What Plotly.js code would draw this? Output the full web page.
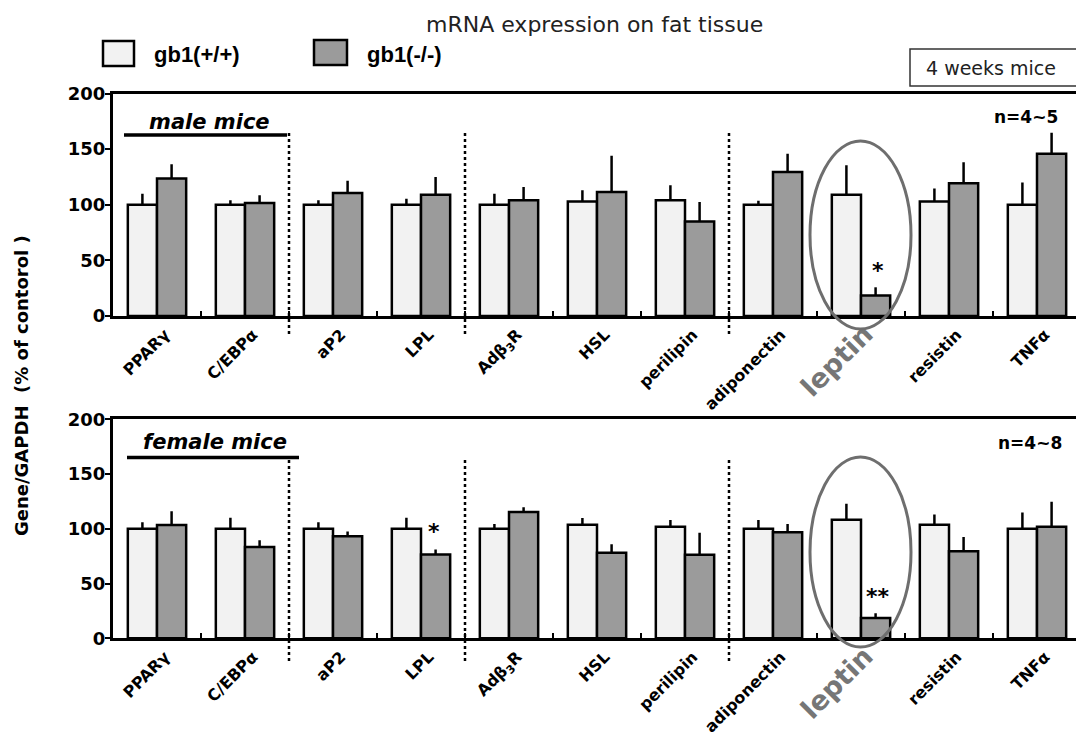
<!DOCTYPE html>
<html>
<head>
<meta charset="utf-8">
<script src="https://cdn.plot.ly/plotly-3.0.1.min.js"></script>
<style>html,body{margin:0;padding:0;background:#fff;overflow:hidden}#chart{width:1076px;height:736px}</style>
</head>
<body>
<div id="chart"></div>
<script>
// ---- data ----
const genes = ["PPARγ","C/EBPα","aP2","LPL","Adβ3R","HSL","perilipin","adiponectin","leptin","resistin","TNFα"];
const tickLabels = ["PPARγ","C/EBPα","aP2","LPL","Adβ<sub>3</sub>R","HSL","perilipin","adiponectin",
  "<span style=\"color:#767676;font-size:27px\">leptin</span>","resistin","TNFα"];
const seriesNames = ["gb1(+/+)","gb1(-/-)"];

const maleWT     = [100, 100, 100, 100, 100, 103, 104, 100, 109, 103, 100];
const maleWTerr  = [10, 4, 4, 5.5, 10, 10, 13.5, 3.7, 26.5, 11.5, 20];
const maleKO     = [123.5, 101.5, 110.5, 109, 104, 111.5, 85, 129.5, 18.5, 119.3, 145.8];
const maleKOerr  = [13, 7, 11, 16, 12, 32.5, 17.5, 16.3, 7.3, 19, 19];

const femaleWT    = [100, 100, 100, 100, 100, 103.7, 101.9, 100, 108.3, 103.7, 100];
const femaleWTerr = [6, 10, 6, 10, 4.3, 6.2, 6.1, 8, 14.5, 9.3, 14.8];
const femaleKO    = [103.4, 83.4, 93.2, 76.6, 115.3, 78.1, 76.2, 96.9, 18.5, 79.6, 101.9];
const femaleKOerr = [12.6, 6.1, 4.3, 4.4, 4.3, 7.7, 20.1, 7.4, 4.3, 13, 22.8];

const groupSeparators = [1.5, 3.5, 6.5];

// ---- layout helpers ----
const W = 1076, H = 736, ML = 113, PW = W - ML;
const px = x => (x - ML) / PW;
const py = y => 1 - y / H;
const zeros = genes.map(() => 0);
const FONT = "DejaVu Sans, sans-serif";
const WTfill = "#f2f2f2", KOfill = "#9b9b9b";

function barTrace(vals, errs, name, fill, xa, ya) {
  return {
    type: "bar", x: genes, y: vals, name: name, xaxis: xa, yaxis: ya, showlegend: false,
    marker: {color: fill, line: {color: "#000", width: 2.5}},
    error_y: {type: "data", symmetric: false, array: errs, arrayminus: zeros,
              thickness: 2.5, width: 0, color: "#000"},
    hoverinfo: "x+y"
  };
}

const traces = [
  barTrace(maleWT, maleWTerr, seriesNames[0], WTfill, "x", "y"),
  barTrace(maleKO, maleKOerr, seriesNames[1], KOfill, "x", "y"),
  barTrace(femaleWT, femaleWTerr, seriesNames[0], WTfill, "x2", "y2"),
  barTrace(femaleKO, femaleKOerr, seriesNames[1], KOfill, "x2", "y2")
];

function xAxis(anchor) {
  return {
    anchor: anchor, type: "category", range: [-0.5, -0.5 + PW / 88],
    tickmode: "array", tickvals: genes, ticktext: tickLabels, tickangle: -45,
    tickson: "boundaries", ticks: "inside", ticklen: 5, tickwidth: 2, tickcolor: "#000",
    ticklabelshift: 8,
    showline: true, linewidth: 3, linecolor: "#000", mirror: true,
    showgrid: false, zeroline: false,
    tickfont: {family: FONT, size: 16, color: "#000", weight: "bold"}
  };
}
function yAxis(domain, anchor) {
  return {
    domain: domain, anchor: anchor, range: [0, 200], dtick: 50, tick0: 0,
    ticks: "outside", ticklen: 5, tickwidth: 2, tickcolor: "#000",
    ticklabelstandoff: -4,
    showline: true, linewidth: 3, linecolor: "#000",
    showgrid: false, zeroline: false,
    tickfont: {family: FONT, size: 18, color: "#000", weight: "bold"}
  };
}

const shapes = [];
// group separators (dotted)
groupSeparators.forEach(s => {
  shapes.push({type: "line", xref: "x", yref: "paper", x0: s, x1: s, y0: py(133), y1: py(336),
               line: {color: "#000", width: 2.5, dash: "dot"}});
  shapes.push({type: "line", xref: "x2", yref: "paper", x0: s, x1: s, y0: py(460), y1: py(663),
               line: {color: "#000", width: 2.5, dash: "dot"}});
});
// panel label underlines
shapes.push({type: "line", xref: "paper", yref: "paper", x0: px(124), x1: px(287), y0: py(135), y1: py(135), line: {color: "#000", width: 3.5}});
shapes.push({type: "line", xref: "paper", yref: "paper", x0: px(127), x1: px(299), y0: py(457.5), y1: py(457.5), line: {color: "#000", width: 3.5}});
// ellipses around leptin
shapes.push({type: "circle", xref: "paper", yref: "paper", x0: px(810), x1: px(911), y0: py(141), y1: py(329), line: {color: "#6e6e6e", width: 3}});
shapes.push({type: "circle", xref: "paper", yref: "paper", x0: px(810), x1: px(911), y0: py(457), y1: py(647), line: {color: "#6e6e6e", width: 3}});
// "4 weeks mice" box
shapes.push({type: "rect", xref: "paper", yref: "paper", x0: px(910), x1: px(1085), y0: py(49), y1: py(86), line: {color: "#333", width: 1.5}, fillcolor: "rgba(0,0,0,0)"});
// legend swatches
shapes.push({type: "rect", xref: "paper", yref: "paper", x0: px(103), x1: px(134), y0: py(41), y1: py(66), line: {color: "#000", width: 2.5}, fillcolor: WTfill});
shapes.push({type: "rect", xref: "paper", yref: "paper", x0: px(314), x1: px(347), y0: py(40), y1: py(65), line: {color: "#000", width: 2.5}, fillcolor: KOfill});

function ann(text, x, y, size, opts) {
  return Object.assign({text: text, xref: "paper", yref: "paper", x: px(x), y: py(y),
    xanchor: "center", yanchor: "middle", showarrow: false,
    font: {family: FONT, size: size, color: "#000", weight: "bold"}}, opts || {});
}

const annotations = [
  ann("mRNA expression on fat tissue", 594, 24, 22, {font: {family: FONT, size: 22, color: "#222", weight: "normal"}}),
  ann("4 weeks mice", 991, 68, 19, {font: {family: FONT, size: 19, color: "#222", weight: "normal"}}),
  ann(seriesNames[0], 152, 54, 22, {xanchor: "left", font: {family: "Liberation Sans, Arial, sans-serif", size: 22, color: "#000", weight: "bold"}}),
  ann(seriesNames[1], 365, 54, 22, {xanchor: "left", font: {family: "Liberation Sans, Arial, sans-serif", size: 22, color: "#000", weight: "bold"}}),
  ann("male mice", 209, 122, 21, {font: {family: FONT, size: 21, color: "#000", weight: "bold", style: "italic"}}),
  ann("female mice", 215, 442, 21, {font: {family: FONT, size: 21, color: "#000", weight: "bold", style: "italic"}}),
  ann("n=4~5", 1026, 117, 17),
  ann("n=4~8", 1030, 443, 17),
  ann("*", 878, 271, 22),
  ann("**", 878, 596, 22),
  ann("*", 434, 531, 22),
  ann("Gene/GAPDH\u00a0\u00a0(% of contorol\u00a0)", 21, 386, 18, {textangle: -90})
];

const layout = {
  width: W, height: H,
  margin: {l: ML, r: 0, t: 0, b: 0, pad: 0},
  paper_bgcolor: "#fff", plot_bgcolor: "#fff",
  barmode: "group", bargap: 0.337, bargroupgap: 0,
  showlegend: false,
  xaxis: xAxis("y"),
  yaxis: yAxis([py(316), py(93.5)], "x"),
  xaxis2: xAxis("y2"),
  yaxis2: yAxis([py(638.3), py(419.3)], "x2"),
  shapes: shapes,
  annotations: annotations
};

Plotly.newPlot("chart", traces, layout, {staticPlot: true, displayModeBar: false});
</script>
</body>
</html>
